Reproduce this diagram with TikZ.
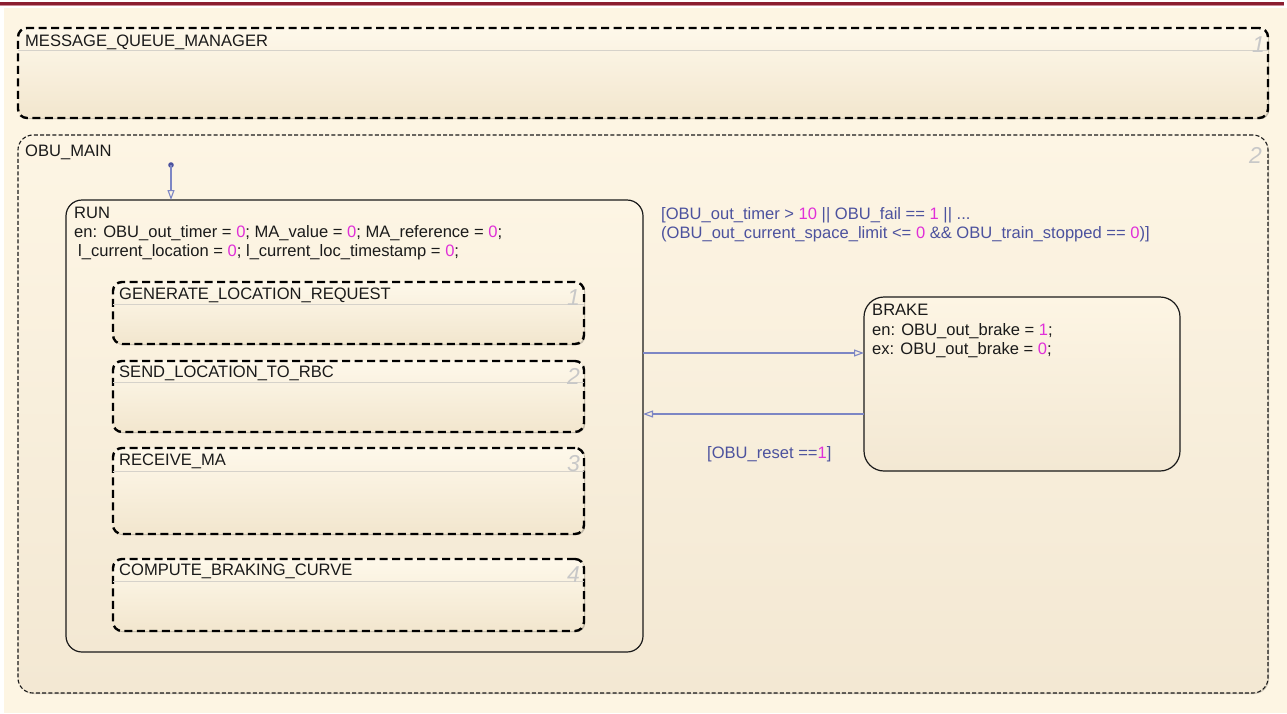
\documentclass[tikz,border=0pt]{standalone}
\usepackage{fontspec}
\setmainfont{Liberation Sans}
\usetikzlibrary{arrows.meta,shadows}

\definecolor{paper}{HTML}{FDF5E3}
\definecolor{boxtop}{HTML}{FEF8EA}
\definecolor{boxbot}{HTML}{F2E6CE}
\definecolor{maintop}{HTML}{FDF5E4}
\definecolor{mainbot}{HTML}{F3E8D3}
\definecolor{topbar}{HTML}{8B1E30}
\definecolor{topbarlight}{HTML}{C98A94}
\definecolor{numc}{HTML}{E02FD8}
\definecolor{guardc}{HTML}{4C529E}
\definecolor{transc}{HTML}{7D86C4}
\definecolor{idxc}{HTML}{C8C8C8}
\definecolor{hdrc}{HTML}{D6D2CA}
\definecolor{inkc}{HTML}{1A1A1A}

\newcommand{\nm}[1]{\textcolor{numc}{#1}}

\tikzset{
  statebox/.style={rectangle, anchor=north west, inner sep=0pt, outer sep=0pt},
  andbox/.style={statebox, draw=black, line width=2.4pt,
    dash pattern=on 8pt off 4.5pt, rounded corners=9pt,
    top color=boxtop, bottom color=boxbot,
    drop shadow={shadow xshift=1.2pt, shadow yshift=-1.2pt,
      fill=black!40!boxbot, opacity=0.5}},
  mainbox/.style={statebox, draw=inkc, line width=1.1pt,
    dash pattern=on 4pt off 2.2pt, rounded corners=15pt,
    top color=maintop, bottom color=mainbot,
    drop shadow={shadow xshift=1pt, shadow yshift=-1pt,
      fill=black!30!mainbot, opacity=0.5}},
  orbox/.style={statebox, draw=inkc, line width=1.2pt, rounded corners=16pt,
    top color=maintop, bottom color=mainbot},
  hdr/.style={draw=hdrc, line width=0.8pt},
  lbl/.style={anchor=base west, inner sep=0pt, text=inkc,
    font=\fontsize{16.55}{19}\selectfont},
  guard/.style={lbl, text=guardc},
  idx/.style={anchor=base east, inner sep=0pt, text=idxc,
    font=\fontsize{23}{24}\selectfont\itshape},
  trans/.style={draw=transc, line width=1.1pt,
    -{Triangle[open, length=10pt, width=7pt, line width=1.1pt]}},
}

\begin{document}
\begin{tikzpicture}[x=1pt, y=-1pt]
\useasboundingbox (0,0) rectangle (1287,713);
% page and title rule
\fill[white] (0,0) rectangle (1287,713);
\fill[paper] (4,8) rectangle (1287,713);
\draw[topbar, line width=2.2pt] (0,3.4) -- (1284,3.4);
\draw[topbarlight, line width=1pt] (0,5.2) -- (1284,5.2);

% parallel state MESSAGE_QUEUE_MANAGER
\node[andbox, minimum width=1250pt, minimum height=90pt] (mqm) at (18,28) {};
\draw[hdr] ([yshift=-22pt]mqm.north west) -- ([yshift=-22pt]mqm.north east);
\node[lbl] (mqmname) at (25,46) {MESSAGE\_QUEUE\_MANAGER};
\node[idx] (mqmidx) at (1265,52) {1};

% parallel state OBU_MAIN
\node[mainbox, minimum width=1250pt, minimum height=558pt] (obu) at (18,135) {};
\node[lbl] (obuname) at (25,156) {OBU\_MAIN};
\node[idx] (obuidx) at (1262,163) {2};

% state RUN
\node[orbox, minimum width=577pt, minimum height=452pt] (run) at (66,200) {};
\node[lbl] (runname) at (74,218) {RUN};
\node[lbl] (runen1) at (74,237) {en: OBU\_out\_timer = \nm{0}; MA\_value = \nm{0}; MA\_reference = \nm{0};};
\node[lbl] (runen2) at (78,256) {l\_current\_location = \nm{0}; l\_current\_loc\_timestamp = \nm{0};};

% parallel substates of RUN
\node[andbox, minimum width=471pt, minimum height=62pt] (glr) at (113,282) {};
\draw[hdr] ([yshift=-22pt]glr.north west) -- ([yshift=-22pt]glr.north east);
\node[lbl] (glrname) at (119,299) {GENERATE\_LOCATION\_REQUEST};
\node[idx] (glridx) at (580,305) {1};

\node[andbox, minimum width=471pt, minimum height=71pt] (slr) at (113,361) {};
\draw[hdr] ([yshift=-21pt]slr.north west) -- ([yshift=-21pt]slr.north east);
\node[lbl] (slrname) at (119,377) {SEND\_LOCATION\_TO\_RBC};
\node[idx] (slridx) at (580,384) {2};

\node[andbox, minimum width=471pt, minimum height=86pt] (rma) at (113,448) {};
\draw[hdr] ([yshift=-23pt]rma.north west) -- ([yshift=-23pt]rma.north east);
\node[lbl] (rmaname) at (119,465) {RECEIVE\_MA};
\node[idx] (rmaidx) at (580,471) {3};

\node[andbox, minimum width=471pt, minimum height=72pt] (cbc) at (113,559) {};
\draw[hdr] ([yshift=-22pt]cbc.north west) -- ([yshift=-22pt]cbc.north east);
\node[lbl] (cbcname) at (119,575) {COMPUTE\_BRAKING\_CURVE};
\node[idx] (cbcidx) at (580,582) {4};

% state BRAKE
\node[orbox, rounded corners=20pt, minimum width=316pt, minimum height=174pt] (brake) at (864,297) {};
\node[lbl] (brakename) at (872,315) {BRAKE};
\node[lbl] (brakeen) at (872,335) {en: OBU\_out\_brake = \nm{1};};
\node[lbl] (brakeex) at (872,354) {ex: OBU\_out\_brake = \nm{0};};

% default transition into RUN
\coordinate (dflt) at (171,165);
\fill[guardc] (dflt) circle (2.8pt);
\draw[trans] (dflt) -- (dflt |- run.north);

% transitions between RUN and BRAKE
\draw[trans] (run.east |- 0,353) -- (brake.west |- 0,353);
\draw[trans] (brake.west |- 0,414) -- (run.east |- 0,414);

% guards
\node[guard] (g1a) at (661,219) {[OBU\_out\_timer > \nm{10} || OBU\_fail == \nm{1} || ...};
\node[guard] (g1b) at (661,238) {(OBU\_out\_current\_space\_limit <= \nm{0} \&\& OBU\_train\_stopped == \nm{0})]};
\node[guard] (g2) at (707,458) {[OBU\_reset ==\nm{1}]};
\end{tikzpicture}
\end{document}
